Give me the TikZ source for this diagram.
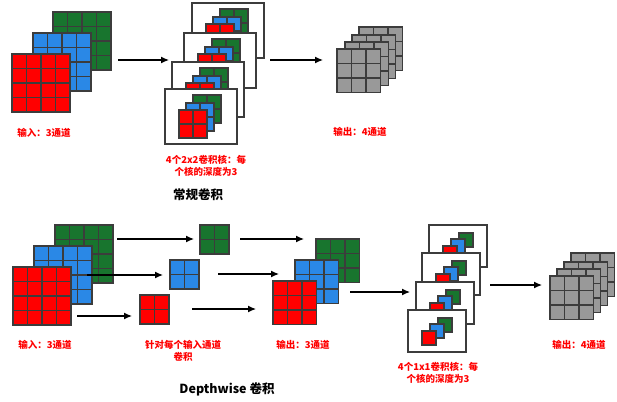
\documentclass[tikz,border=0pt]{standalone}
\usepackage{fontspec}
\setmainfont{Liberation Sans}
\newfontfamily\cjk{Noto Sans CJK SC}
\usetikzlibrary{arrows.meta}
\definecolor{cgreen}{RGB}{24,117,46}
\definecolor{cblue}{RGB}{42,136,230}
\definecolor{cred}{RGB}{255,0,0}
\definecolor{cgray}{RGB}{153,153,153}
\definecolor{cedge}{RGB}{60,60,60}
\tikzset{
  sq/.style={draw=cedge, line width=1.6pt, inner sep=0pt, outer sep=0pt},
  gl/.style={draw=cedge, line width=1.6pt},
  frame/.style={draw=cedge, line width=1.3pt, fill=white, inner sep=0pt, outer sep=0pt, anchor=north west},
  arr/.style={line width=1.2pt, -{Latex[length=8pt,width=7pt]}},
  lab/.style={text=cred, font=\cjk\bfseries\fontsize{9.5}{11.5}\selectfont, align=center},
  ttl/.style={text=black, font=\cjk\bfseries\fontsize{12.5}{14}\selectfont}
}
% name, x, y (top-left), n, cell, colour
\newcommand\gridsq[6]{%
  \node[sq, fill=#6, minimum size=#4*#5*1pt, anchor=north west] (#1) at (#2,#3) {};
  \pgfmathsetmacro\gsz{#4*#5}%
  \pgfmathtruncatemacro\nmo{#4-1}%
  \foreach \k in {1,...,\nmo}{%
    \draw[gl] ({#2+\k*#5},{#3}) -- ++(0,\gsz);
    \draw[gl] ({#2},{#3+\k*#5}) -- ++(\gsz,0);
  }%
}
% 2x2 kernel box: name, x, y
\newcommand\kbox[3]{%
  \node[frame, minimum width=72pt, minimum height=55pt] (#1) at (#2,#3) {};
  \gridsq{#1g}{#2+28}{#3+6}{2}{14}{cgreen}
  \gridsq{#1b}{#2+21}{#3+14}{2}{14}{cblue}
  \gridsq{#1r}{#2+14}{#3+21}{2}{14}{cred}
}
% 1x1 kernel box: name, x, y
\newcommand\pbox[3]{%
  \node[frame, minimum width=58pt, minimum height=42pt] (#1) at (#2,#3) {};
  \node[sq, fill=cgreen, minimum size=14pt, anchor=north west] (#1g) at (#2+30,#3+8) {};
  \node[sq, fill=cblue, minimum size=14pt, anchor=north west] (#1b) at (#2+22,#3+14) {};
  \node[sq, fill=cred, minimum size=14pt, anchor=north west] (#1r) at (#2+14,#3+21) {};
}
\begin{document}
\begin{tikzpicture}[x=1pt,y=-1pt]
\useasboundingbox (0,0) rectangle (617,401);
% ---------- regular convolution ----------
\gridsq{inG}{53}{12}{4}{14.5}{cgreen}
\gridsq{inB}{33}{33}{4}{14.5}{cblue}
\gridsq{inR}{12}{54}{4}{14.5}{cred}
\node[lab] (l1) at (44,133) {输入：3通道};
\coordinate (a1s) at (118,60); \coordinate (a1e) at (169,60);
\draw[arr] (a1s) -- (a1e);
\kbox{k1}{192}{3}
\kbox{k2}{184}{33}
\kbox{k3}{172}{62}
\kbox{k4}{165}{89}
\node[lab] (l2) at (206,166) {4个2x2卷积核：每\\个核的深度为3};
\coordinate (a2s) at (270,60); \coordinate (a2e) at (323,60);
\draw[arr] (a2s) -- (a2e);
\gridsq{o1}{359}{27}{3}{14.5}{cgray}
\gridsq{o2}{352}{35}{3}{14.5}{cgray}
\gridsq{o3}{345}{42}{3}{14.5}{cgray}
\gridsq{o4}{337}{49}{3}{14.5}{cgray}
\node[lab] (l3) at (360,132) {输出：4通道};
\node[ttl] (t1) at (198,195) {常规卷积};
% ---------- depthwise convolution ----------
\gridsq{dG}{55}{225}{4}{14.5}{cgreen}
\gridsq{dB}{34}{246}{4}{14.5}{cblue}
\gridsq{dR}{13}{267}{4}{14.5}{cred}
\node[lab] (l4) at (45,345) {输入：3通道};
\coordinate (b1s) at (117,239); \coordinate (b1e) at (194,239);
\coordinate (b2s) at (87,275);  \coordinate (b2e) at (163,275);
\coordinate (b3s) at (77,316);  \coordinate (b3e) at (132,316);
\draw[arr] (b1s) -- (b1e);
\draw[arr] (b2s) -- (b2e);
\draw[arr] (b3s) -- (b3e);
\gridsq{kG}{200}{225}{2}{14.5}{cgreen}
\gridsq{kB}{170}{260}{2}{14.5}{cblue}
\gridsq{kR}{140}{295}{2}{14.5}{cred}
\node[lab] (l5) at (183,351) {针对每个输入通道\\卷积};
\coordinate (c1s) at (240,239); \coordinate (c1e) at (304,239);
\coordinate (c2s) at (218,274); \coordinate (c2e) at (279,274);
\coordinate (c3s) at (192,309); \coordinate (c3e) at (256,309);
\draw[arr] (c1s) -- (c1e);
\draw[arr] (c2s) -- (c2e);
\draw[arr] (c3s) -- (c3e);
\gridsq{mG}{316}{239}{3}{14.5}{cgreen}
\gridsq{mB}{295}{260}{3}{14.5}{cblue}
\gridsq{mR}{273}{281}{3}{14.5}{cred}
\node[lab] (l6) at (303,345) {输出：3通道};
\coordinate (d1s) at (350,292); \coordinate (d1e) at (410,292);
\draw[arr] (d1s) -- (d1e);
\pbox{p1}{429}{225}
\pbox{p2}{422}{253}
\pbox{p3}{416}{282}
\pbox{p4}{408}{310}
\node[lab] (l7) at (438,373) {4个1x1卷积核：每\\个核的深度为3};
\coordinate (e1s) at (490,285); \coordinate (e1e) at (542,285);
\draw[arr] (e1s) -- (e1e);
\gridsq{q1}{571}{253}{3}{14.5}{cgray}
\gridsq{q2}{564}{262}{3}{14.5}{cgray}
\gridsq{q3}{557}{269}{3}{14.5}{cgray}
\gridsq{q4}{550}{276}{3}{14.5}{cgray}
\node[lab] (l8) at (579,345) {输出：4通道};
\node[ttl] (t2) at (227,389) {Depthwise 卷积};
\end{tikzpicture}
\end{document}
